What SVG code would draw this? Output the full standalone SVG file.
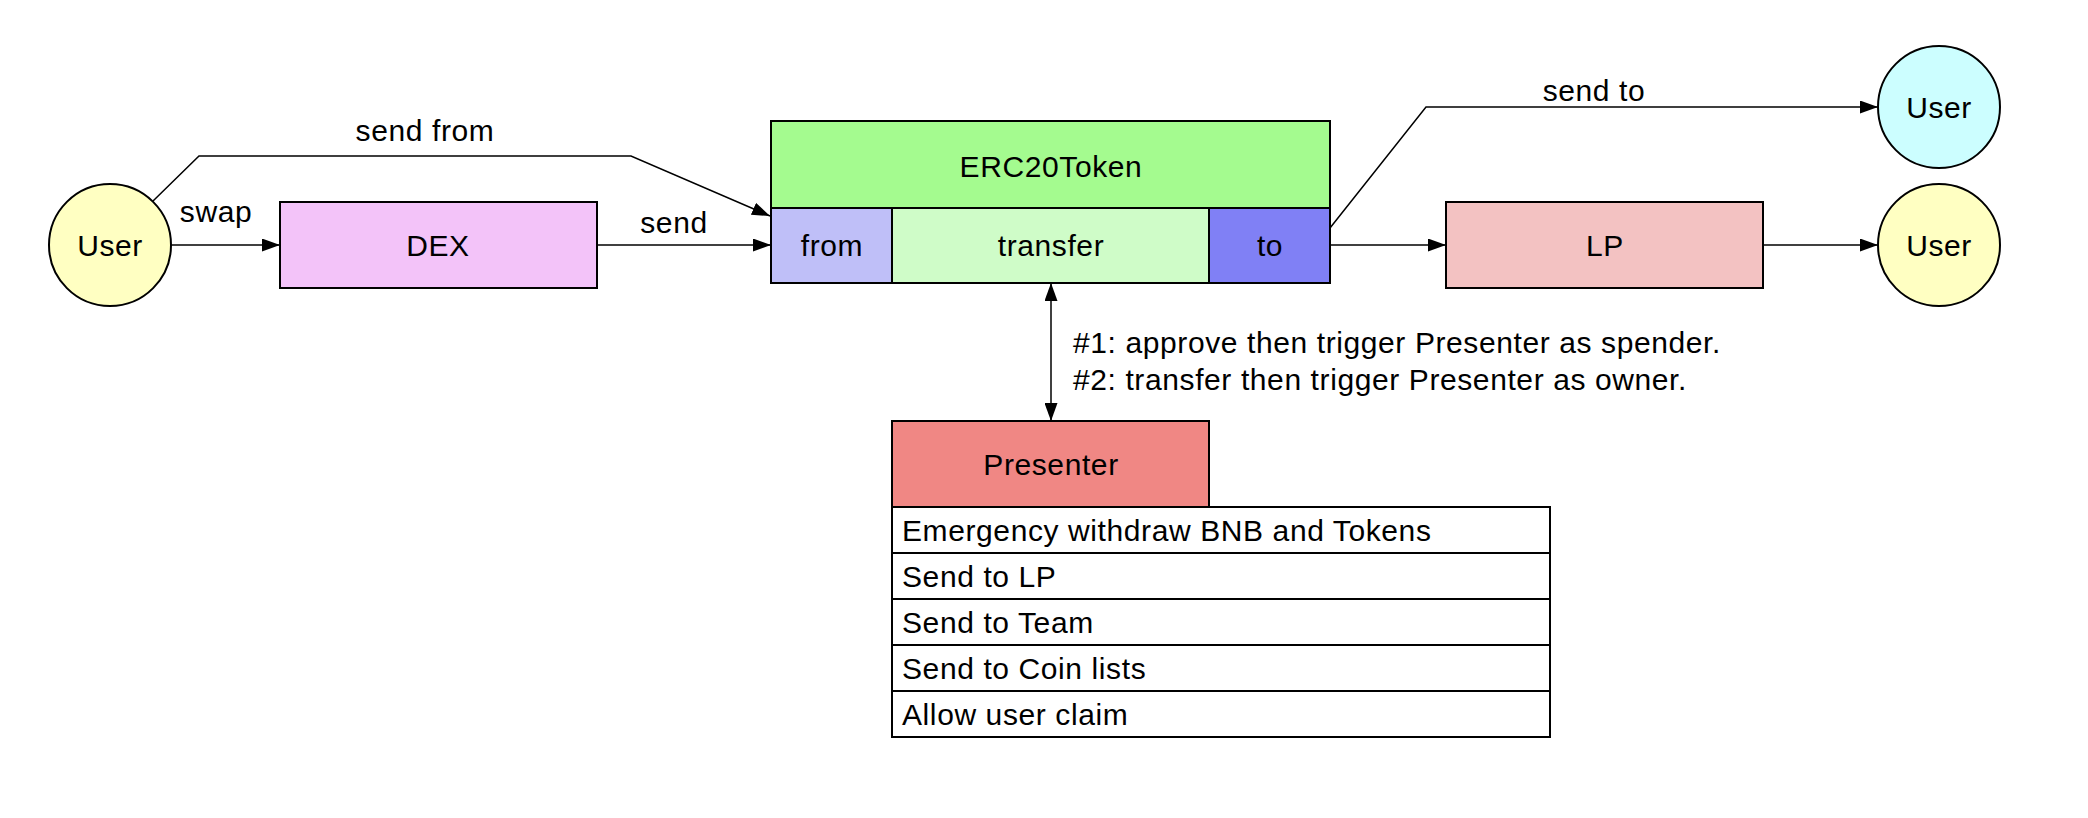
<svg xmlns="http://www.w3.org/2000/svg" width="2088" height="818" viewBox="0 0 2088 818">
<style>
text{font-family:"Liberation Sans",Arial,Helvetica,sans-serif;font-size:30px;fill:#000;letter-spacing:0.6px}
.c{text-anchor:middle}
.n{stroke:#000;stroke-width:2}
.e{fill:none;stroke:#000;stroke-width:1.5;marker-end:url(#ah)}
</style>
<defs>
<marker id="ah" viewBox="0 0 18 13" refX="18" refY="6.5" markerWidth="18" markerHeight="13" markerUnits="userSpaceOnUse" orient="auto-start-reverse">
<path d="M0,0 L18,6.5 L0,13 z" fill="#000"/>
</marker>
</defs>
<rect width="2088" height="818" fill="#fff"/>
<g id="connectors">
<path class="e" d="M170,245 L280,245"/>
<path class="e" d="M597,245 L771,245"/>
<path class="e" d="M153,201 L199,156 L631,156 L770,216"/>
<path class="e" d="M1330,228 L1426,107 L1878,107"/>
<path class="e" d="M1330,245 L1446,245"/>
<path class="e" d="M1763,245 L1878,245"/>
<path class="e" d="M1051,283 L1051,421" marker-start="url(#ah)"/>
<text class="c" x="216" y="222">swap</text>
<text class="c" x="674" y="233">send</text>
<text class="c" x="425" y="141">send from</text>
<text class="c" x="1594" y="101">send to</text>
<text x="1073" y="353">#1: approve then trigger Presenter as spender.</text>
<text x="1073" y="390">#2: transfer then trigger Presenter as owner.</text>
</g>
<g id="user-left">
<ellipse class="n" cx="110" cy="245" rx="61" ry="61" fill="#FFFFC2"/>
<text class="c" x="110" y="256">User</text>
</g>
<g id="dex">
<rect class="n" x="280" y="202" width="317" height="86" fill="#F3C3F9"/>
<text class="c" x="438" y="256">DEX</text>
</g>
<g id="erc20token">
<rect class="n" x="771" y="121" width="559" height="87" fill="#A4FB8F"/>
<text class="c" x="1051" y="177">ERC20Token</text>
<rect class="n" x="771" y="208" width="121" height="75" fill="#BFBFF8"/>
<text class="c" x="832" y="256">from</text>
<rect class="n" x="892" y="208" width="317" height="75" fill="#CFFCC8"/>
<text class="c" x="1051" y="256">transfer</text>
<rect class="n" x="1209" y="208" width="121" height="75" fill="#8080F5"/>
<text class="c" x="1270" y="256">to</text>
</g>
<g id="lp">
<rect class="n" x="1446" y="202" width="317" height="86" fill="#F3C2C2"/>
<text class="c" x="1605" y="256">LP</text>
</g>
<g id="user-top-right">
<ellipse class="n" cx="1939" cy="107" rx="61" ry="61" fill="#CCFEFF"/>
<text class="c" x="1939" y="118">User</text>
</g>
<g id="user-bottom-right">
<ellipse class="n" cx="1939" cy="245" rx="61" ry="61" fill="#FFFFC2"/>
<text class="c" x="1939" y="256">User</text>
</g>
<g id="presenter">
<rect class="n" x="892" y="421" width="317" height="86" fill="#F08784"/>
<text class="c" x="1051" y="475">Presenter</text>
<rect class="n" x="892" y="507" width="658" height="46" fill="#fff"/>
<text x="902" y="541">Emergency withdraw BNB and Tokens</text>
<rect class="n" x="892" y="553" width="658" height="46" fill="#fff"/>
<text x="902" y="587">Send to LP</text>
<rect class="n" x="892" y="599" width="658" height="46" fill="#fff"/>
<text x="902" y="633">Send to Team</text>
<rect class="n" x="892" y="645" width="658" height="46" fill="#fff"/>
<text x="902" y="679">Send to Coin lists</text>
<rect class="n" x="892" y="691" width="658" height="46" fill="#fff"/>
<text x="902" y="725">Allow user claim</text>
</g>
</svg>
